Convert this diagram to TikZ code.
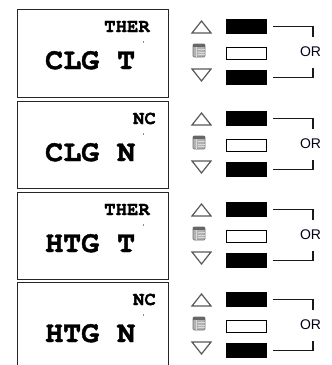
\documentclass[tikz,border=0pt]{standalone}
\usepackage{fontspec}
\newfontfamily\monofnt{TeX Gyre Cursor}[FakeBold=1.5]
\newfontfamily\orfnt{Liberation Sans}
\tikzset{
  panelbox/.style={draw=black!85, line width=1.2pt, anchor=north west, minimum width=151pt, inner sep=0pt},
  bigtext/.style={font=\monofnt\bfseries\fontsize{30}{30}\selectfont, inner sep=0pt, anchor=base west},
  smalltext/.style={font=\monofnt\bfseries\fontsize{19}{19}\selectfont, inner sep=0pt, anchor=base east},
  blackbar/.style={fill=black, draw=black, line width=0.6pt, minimum width=40pt, minimum height=14pt, inner sep=0pt},
  whitebar/.style={fill=white, draw=black, line width=1.4pt, minimum width=40pt, minimum height=12pt, inner sep=0pt},
  tri/.style={draw=black!65, line width=1.2pt, line join=miter},
  brk/.style={draw=black!90, line width=1.5pt},
  ortext/.style={font=\orfnt\fontsize{14}{14}\selectfont, text=black!90!blue, inner sep=0pt},
  tick/.style={draw=black!45, line width=0.8pt}
}
\newcommand{\drawpanel}[6]{%
\begin{scope}[shift={(0,#2)}]
  \node[panelbox, minimum height=#6] (panel#1) at (17,0) {};
  \node[bigtext] (big#1) at (45,60) {#3};
  \node[smalltext] (small#1) at (#5,23) {#4};
  \draw[tick] (143,32) -- (143,34);
  \draw[tri] (192,24) -- (201.5,12) -- (211,24) -- cycle;
  \draw[tri] (192,60) -- (201.5,72) -- (211,60) -- cycle;
  \draw[fill=black!30, draw=black!55, line width=0.6pt, rounded corners=1pt] (193,35) rectangle (205,48);
  \fill[black!60] (193.3,35.3) rectangle (204.7,37.5);
  \draw[white!85!black, line width=0.7pt] (196.5,38) -- (196.5,47.5);
  \draw[white!85!black, line width=0.7pt] (197.5,40.5) -- (204.5,40.5) (197.5,43.2) -- (204.5,43.2) (197.5,45.8) -- (204.5,45.8);
  \node[blackbar] (upbar#1) at (246.5,17.5) {};
  \node[whitebar] (midbar#1) at (246.5,44.5) {};
  \node[blackbar] (dnbar#1) at (246.5,68.5) {};
  \draw[brk] ([xshift=6pt]upbar#1.east) -- ++(40,0) -- ++(0,10);
  \draw[brk] ([xshift=6pt]dnbar#1.east) -- ++(40,0) -- ++(0,-10);
  \node[ortext] (or#1) at (310.5,43) {OR};
\end{scope}}
\begin{document}
\begin{tikzpicture}[x=1pt,y=-1pt]
\useasboundingbox (0,0) rectangle (332,365);
\clip (0,0) rectangle (332,365);
\fill[white] (0,0) rectangle (332,365);
\drawpanel{1}{9}{CLG T}{THER}{150}{88pt}
\drawpanel{2}{101}{CLG N}{NC}{156}{87pt}
\drawpanel{3}{192}{HTG T}{THER}{150}{87pt}
\drawpanel{4}{282}{HTG N}{NC}{156}{100pt}
\end{tikzpicture}
\end{document}
